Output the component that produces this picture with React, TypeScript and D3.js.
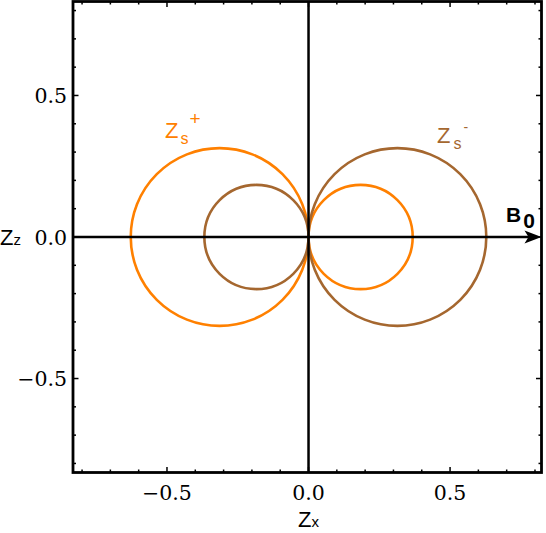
import React from "react";
import * as d3 from "d3";

const W = 546;
const H = 533;

// Plot range
const xDomain = [-0.832, 0.823];
const yDomain = [-0.832, 0.832];

// Circles: centre on the Zx axis and radius, and which branch they belong to
const circleCentres = [-0.314, -0.184, 0.184, 0.314];
const circleRadii = [0.314, 0.184, 0.184, 0.314];
const circleBranch = ["plus", "minus", "plus", "minus"];

const branchColour: Record<string, string> = { plus: "#FF8000", minus: "#A5672F" };

const majorTicks = [-0.5, 0.0, 0.5];
const majorTickLabels = ["\u22120.5", "0.0", "0.5"];
const minorTicks = [-0.8, -0.7, -0.6, -0.4, -0.3, -0.2, -0.1, 0.1, 0.2, 0.3, 0.4, 0.6, 0.7, 0.8];

export default function App() {
  const left = 73, right = 541.5, top = 1.5, bottom = 472.5;
  const x = d3.scaleLinear().domain(xDomain).range([left, right]);
  const y = d3.scaleLinear().domain(yDomain).range([bottom, top]);

  const serifFont = "DejaVu Serif";
  const sans = "Liberation Sans, DejaVu Sans, sans-serif";

  const tickEls: React.ReactNode[] = [];
  const addTicks = (v: number, len: number, key: string) => {
    const px = x(v), py = y(v);
    tickEls.push(
      <g key={key} stroke="#000" strokeWidth={1.5}>
        <line x1={px} x2={px} y1={bottom} y2={bottom - len} />
        <line x1={px} x2={px} y1={top} y2={top + len} />
        <line x1={left} x2={left + len} y1={py} y2={py} />
        <line x1={right} x2={right - len} y1={py} y2={py} />
      </g>
    );
  };
  majorTicks.forEach((v, i) => addTicks(v, 5.5, "M" + i));
  minorTicks.forEach((v, i) => addTicks(v, 3, "m" + i));

  const x0 = x(0), y0 = y(0);

  return (
    <svg width={W} height={H} style={{ position: "absolute", left: 0, top: 0, background: "#fff" }}>
      {/* circles */}
      {circleCentres.map((c, i) => (
        <ellipse
          key={i}
          cx={x(c)}
          cy={y(0)}
          rx={x(c + circleRadii[i]) - x(c)}
          ry={y(0) - y(circleRadii[i])}
          fill="none"
          stroke={branchColour[circleBranch[i]]}
          strokeWidth={2.6}
        />
      ))}

      {/* axes through origin */}
      <line x1={x0} x2={x0} y1={top} y2={bottom} stroke="#000" strokeWidth={2.5} />
      <line x1={left} x2={right - 12} y1={y0} y2={y0} stroke="#000" strokeWidth={2.5} />
      <path d={`M${right},${y0} L${right - 17},${y0 - 6.5} L${right - 13},${y0} L${right - 17},${y0 + 6.5} Z`} fill="#000" />

      {/* frame */}
      <rect x={left} y={top} width={right - left} height={bottom - top} fill="none" stroke="#000" strokeWidth={2.8} />
      {tickEls}

      {/* tick labels */}
      <g fontFamily={serifFont} fontSize="20.5px">
        {majorTicks.map((v, i) => (
          <text key={"xl" + i} x={x(v)} y={500} textAnchor="middle">
            {majorTickLabels[i]}
          </text>
        ))}
        {majorTicks.map((v, i) => (
          <text key={"yl" + i} x={67} y={y(v) + 7.5} textAnchor="end">
            {majorTickLabels[i]}
          </text>
        ))}
      </g>

      <g fontFamily={sans}>
        {/* axis labels */}
        <text x={298} y={527} fontSize="22px">
          Z<tspan fontSize="15px">x</tspan>
        </text>
        <text x={0} y={245} fontSize="22px">
          Z<tspan fontSize="15px">z</tspan>
        </text>

        {/* branch labels */}
        <text x={165} y={138} fontSize="22px" fill={branchColour.plus}>
          Z<tspan fontSize="16px" dx={2} dy={6}>s</tspan>
          <tspan fontSize="19px" dx={1} dy={-19}>+</tspan>
        </text>
        <text x={437} y={143} fontSize="22px" fill={branchColour.minus}>
          Z<tspan fontSize="16px" dx={3} dy={6}>s</tspan>
          <tspan fontSize="14px" dx={2} dy={-17}>-</tspan>
        </text>

        {/* B0 */}
        <text x={506} y={222} fontSize="21px" fontWeight="bold">
          B<tspan dx={2} dy={6}>0</tspan>
        </text>
      </g>
    </svg>
  );
}
